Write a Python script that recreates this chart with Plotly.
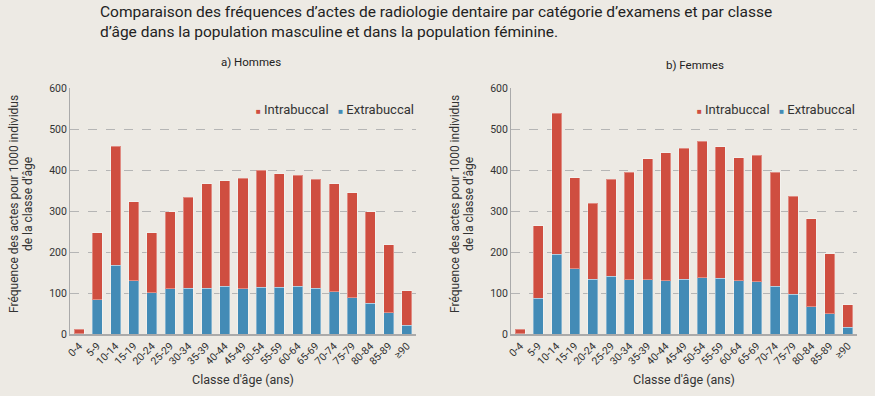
import plotly.graph_objects as go
from plotly.subplots import make_subplots

categories = ["0-4", "5-9", "10-14", "15-19", "20-24", "25-29", "30-34", "35-39", "40-44",
              "45-49", "50-54", "55-59", "60-64", "65-69", "70-74", "75-79", "80-84", "85-89", "≥90"]

hommes_extra = [1, 83, 168, 130, 101, 110, 112, 112, 116, 110, 114, 114, 116, 111, 103, 88, 75, 52, 21]
hommes_intra = [11, 164, 290, 193, 146, 188, 222, 254, 258, 270, 286, 277, 271, 267, 263, 256, 223, 166, 85]

femmes_extra = [1, 87, 195, 159, 134, 141, 132, 132, 130, 134, 137, 136, 130, 128, 117, 97, 67, 50, 16]
femmes_intra = [11, 177, 343, 222, 185, 237, 262, 296, 312, 319, 333, 321, 300, 308, 277, 239, 214, 146, 55]

y_ticks = [0, 100, 200, 300, 400, 500, 600]

RED = "#CF4E40"
BLUE = "#438BB6"
BG = "#EDEAE4"
FONT = "Roboto"

W, H = 875, 396
T, B = 88, 62
PH = H - T - B

fig = make_subplots(rows=1, cols=2, horizontal_spacing=0.1)

for col, (extra, intra) in enumerate([(hommes_extra, hommes_intra), (femmes_extra, femmes_intra)], start=1):
    fig.add_trace(go.Bar(x=categories, y=extra, name="Extrabuccal", marker_color=BLUE,
                         marker_line=dict(color="rgba(255,255,255,0.35)", width=1),
                         showlegend=False), row=1, col=col)
    fig.add_trace(go.Bar(x=categories, y=intra, name="Intrabuccal", marker_color=RED,
                         marker_line=dict(color="rgba(255,255,255,0.35)", width=1),
                         showlegend=False), row=1, col=col)

fig.update_layout(
    barmode="stack",
    bargap=0.45,
    width=W, height=H,
    paper_bgcolor=BG, plot_bgcolor=BG,
    margin=dict(l=0, r=0, t=T, b=B),
    font=dict(family=FONT, size=11, color="#333333"),
    showlegend=False,
)

fig.update_xaxes(domain=[70 / W, 416 / W], row=1, col=1)
fig.update_xaxes(domain=[511 / W, 857 / W], row=1, col=2)

fig.update_xaxes(tickangle=-45, showline=True, linecolor="#AAAAAA", linewidth=1.5, automargin=False,
                 showgrid=False, ticks="", tickfont=dict(size=10.5, color="#333333"),
                 title=dict(text="Classe d'âge (ans)", font=dict(size=12.5, color="#333333"), standoff=9))

fig.update_yaxes(range=[0, 600], tickvals=y_ticks, showline=True, linecolor="#AAAAAA", linewidth=1,
                 showgrid=True, gridcolor="#B5B5B5", griddash="dash", gridwidth=1, automargin=False,
                 zeroline=False, ticks="", tickfont=dict(size=10.5, color="#333333"))


def py(pix):
    return 1 - (pix - T) / PH


Y_TITLE_LINES = ["Fréquence des actes pour 1000 individus", "de la classe d'âge"]
for cx in (14, 455):
    for i, line in enumerate(Y_TITLE_LINES):
        fig.add_annotation(text=line, textangle=-90, xref="paper", yref="paper",
                           x=(cx + 14 * i) / W, y=py(204), xanchor="center", yanchor="middle",
                           showarrow=False, font=dict(size=12, color="#333333"))

fig.add_annotation(text="Comparaison des fréquences d’actes de radiologie dentaire par catégorie d’examens et par classe<br>d’âge dans la population masculine et dans la population féminine.",
                   xref="paper", yref="paper", x=98 / W, y=py(1), xanchor="left", yanchor="top",
                   align="left", showarrow=False, font=dict(size=15.5, color="#222222", family=FONT))
fig.add_annotation(text="a) Hommes", xref="paper", yref="paper", x=251 / W, y=py(62),
                   xanchor="center", yanchor="middle", showarrow=False, font=dict(size=11.5, color="#222222"))
fig.add_annotation(text="b) Femmes", xref="paper", yref="paper", x=695 / W, y=py(65),
                   xanchor="center", yanchor="middle", showarrow=False, font=dict(size=11.5, color="#222222"))

# compact legends drawn as text
for right_px in (416, 857):
    fig.add_annotation(
        text=(f"<span style='color:{RED};font-size:8px'>■</span> Intrabuccal   "
              f"<span style='color:{BLUE};font-size:8px'>■</span> Extrabuccal"),
        xref="paper", yref="paper", x=right_px / W, y=py(109), xanchor="right", yanchor="middle",
        showarrow=False, font=dict(size=13, color="#333333"))

fig.write_html("out.html", config={"displayModeBar": False},
               post_script="document.body.style.margin='0';document.body.style.background='#EDEAE4';")
